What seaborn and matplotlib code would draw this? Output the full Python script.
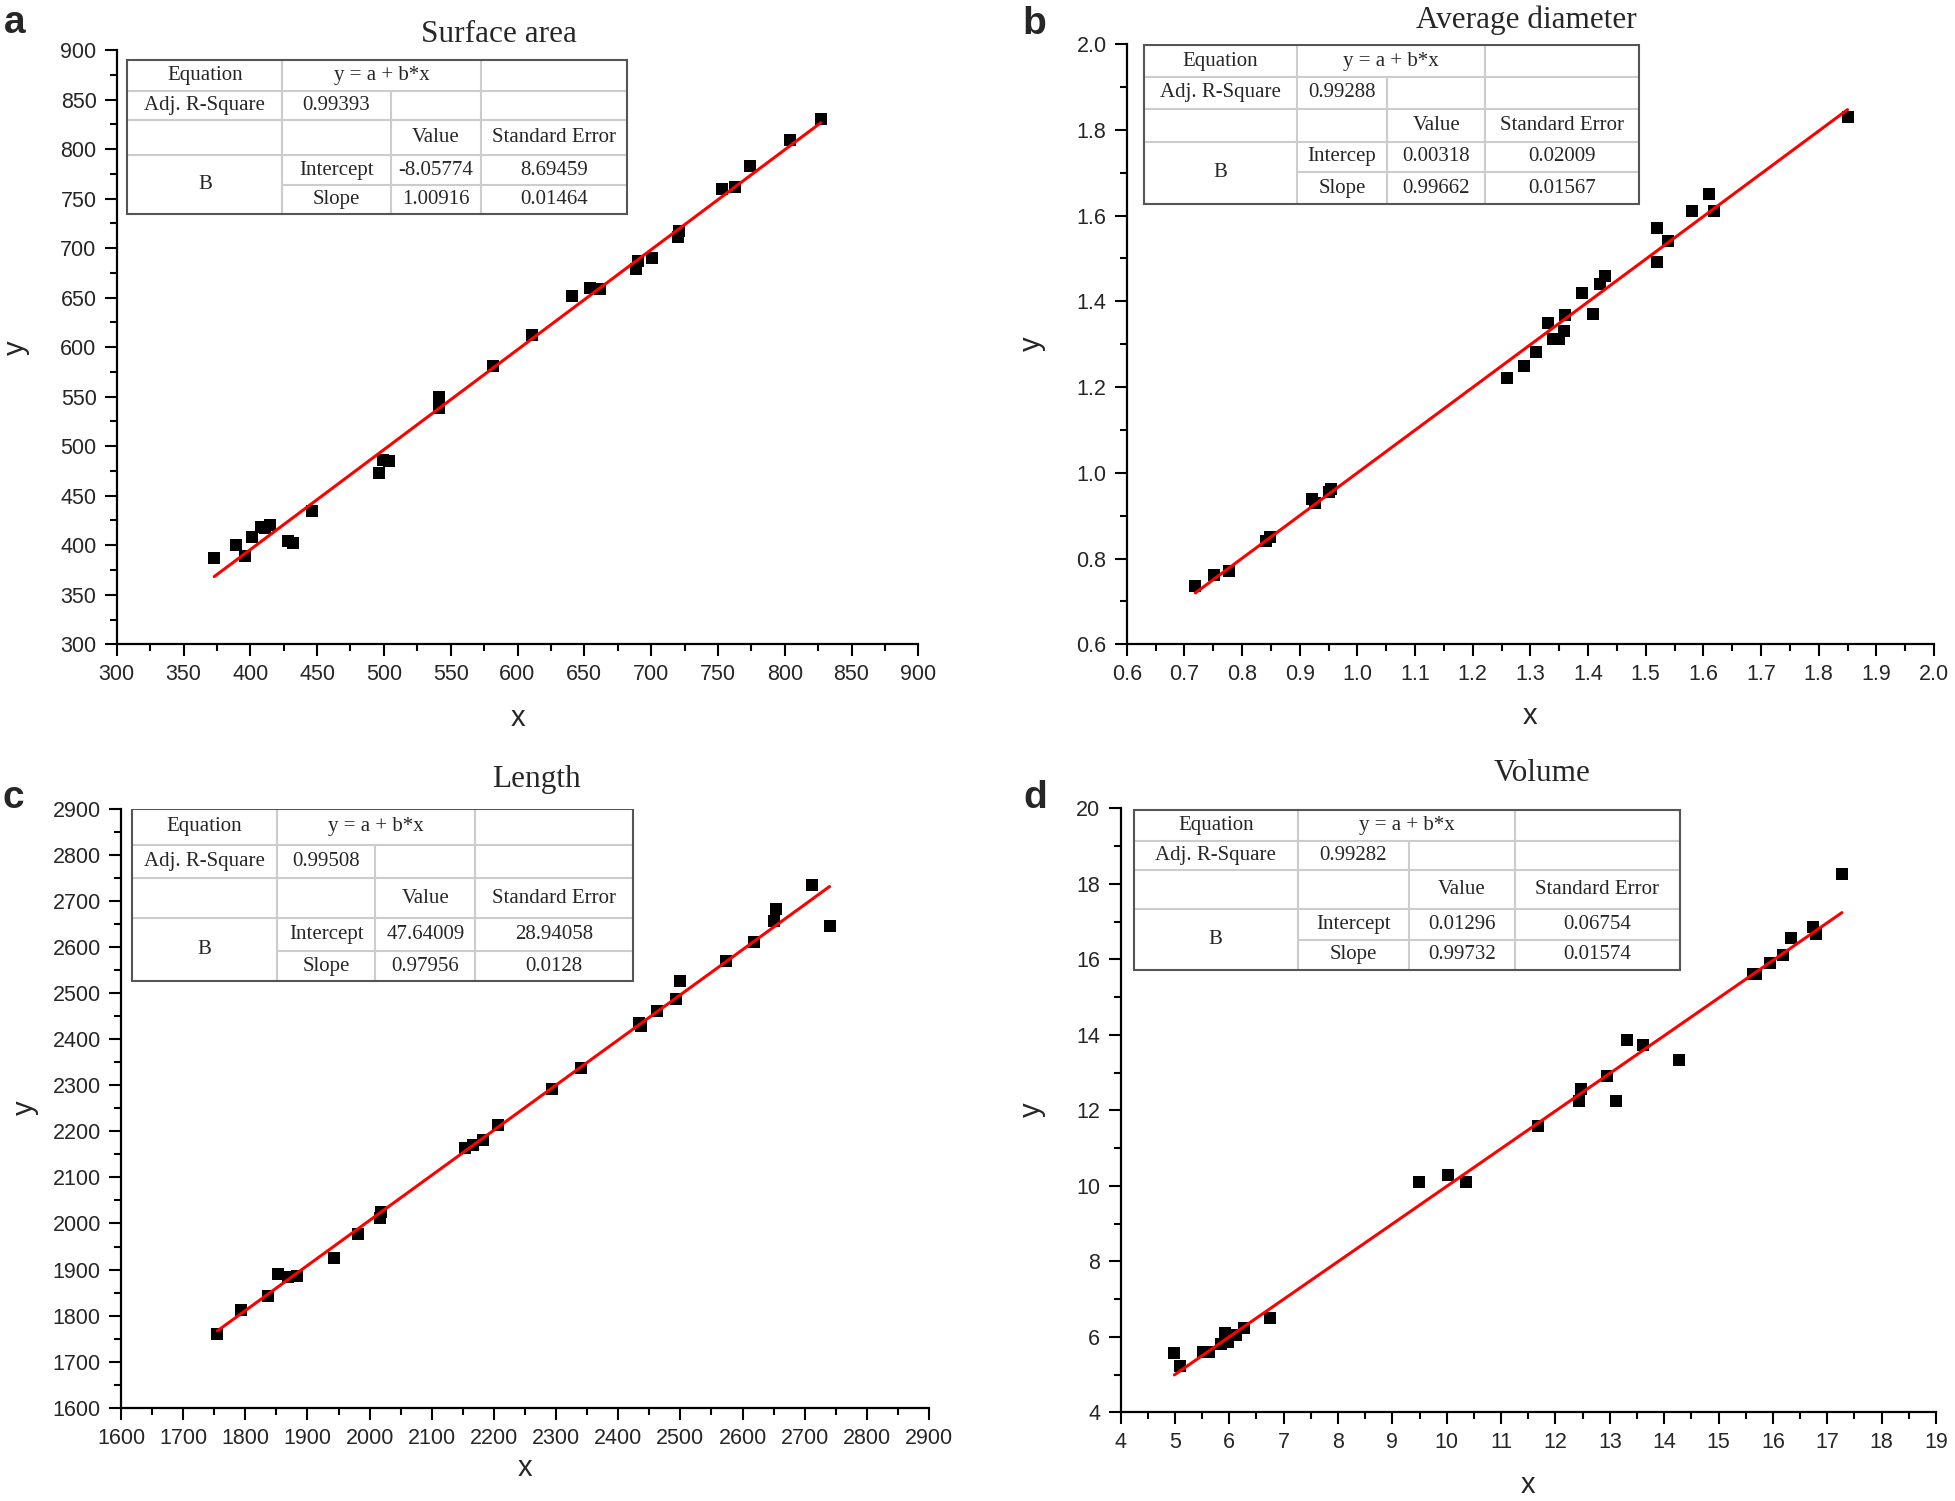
import matplotlib
matplotlib.use("Agg")
import matplotlib.pyplot as plt
from matplotlib.ticker import MultipleLocator, FormatStrFormatter
import seaborn as sns

sa_x = [373, 389, 396, 401, 408, 411, 415, 428, 432, 446, 496, 499, 504, 541, 541,
        582, 611, 641, 654, 662, 689, 690, 701, 720, 721, 753, 763, 774, 804, 827]
sa_y = [387, 400, 389, 408, 418, 417, 420, 404, 402, 435, 473, 486, 485, 550, 539,
        581, 612, 652, 660, 659, 679, 687, 690, 711, 717, 760, 762, 783, 809, 830]

dia_x = [0.719, 0.752, 0.777, 0.842, 0.849, 0.921, 0.926, 0.951, 0.954, 1.259, 1.289,
         1.310, 1.331, 1.340, 1.350, 1.358, 1.360, 1.389, 1.409, 1.420, 1.430, 1.520,
         1.520, 1.539, 1.581, 1.610, 1.618, 1.850]
dia_y = [0.736, 0.762, 0.770, 0.840, 0.850, 0.939, 0.930, 0.955, 0.962, 1.220, 1.250,
         1.281, 1.350, 1.311, 1.311, 1.331, 1.369, 1.420, 1.370, 1.440, 1.459, 1.570,
         1.492, 1.540, 1.610, 1.650, 1.610, 1.829]

len_x = [1755, 1793, 1836, 1853, 1869, 1883, 1943, 1982, 2017, 2019, 2153, 2166, 2183,
         2206, 2294, 2340, 2433, 2436, 2463, 2493, 2500, 2573, 2618, 2650, 2654, 2712, 2740]
len_y = [1760, 1812, 1843, 1891, 1883, 1885, 1925, 1978, 2011, 2024, 2163, 2171, 2181,
         2214, 2292, 2338, 2435, 2429, 2461, 2488, 2527, 2570, 2611, 2656, 2683, 2735, 2646]

vol_x = [4.99, 5.09, 5.52, 5.63, 5.84, 5.92, 5.98, 6.13, 6.28, 6.75, 9.49, 10.02, 10.35,
         11.68, 12.43, 12.47, 12.95, 13.11, 13.31, 13.61, 14.27, 15.64, 15.69, 15.95,
         16.19, 16.34, 16.73, 16.80, 17.27]
vol_y = [5.58, 5.23, 5.59, 5.59, 5.81, 6.11, 5.87, 6.04, 6.24, 6.49, 10.11, 10.29, 10.11,
         11.58, 12.24, 12.57, 12.90, 12.25, 13.85, 13.73, 13.34, 15.62, 15.61, 15.90,
         16.11, 16.57, 16.85, 16.67, 18.25]

titles = ["Surface area", "Average diameter", "Length", "Volume"]
letters = ["a", "b", "c", "d"]
adj_r2 = ["0.99393", "0.99288", "0.99508", "0.99282"]
intercept_names = ["Intercept", "Intercep", "Intercept", "Intercept"]
intercepts = [-8.05774, 0.00318, 47.64009, 0.01296]
intercept_se = ["8.69459", "0.02009", "28.94058", "0.06754"]
slopes = [1.00916, 0.99662, 0.97956, 0.99732]
slope_se = ["0.01464", "0.01567", "0.0128", "0.01574"]

xs = [sa_x, dia_x, len_x, vol_x]
ys = [sa_y, dia_y, len_y, vol_y]

# ---- layout (pixels in the 1955x1501 canvas) ----
W, H = 1955, 1501
axes_px = [(116.7, 50, 918.3, 644.3), (1126.7, 44, 1934, 644.3),
           (121, 809, 929, 1407.7), (1120.5, 808.3, 1936, 1412.3)]
limits = [((300, 900), (300, 900)), ((0.6, 2.0), (0.6, 2.0)),
          ((1600, 2900), (1600, 2900)), ((4, 19), (4, 20))]
steps = [((50, 25), (50, 25)), ((0.1, 0.05), (0.2, 0.1)),
         ((100, 50), (100, 50)), ((1, 0.5), (2, 1))]
letter_pos = [(4, 33), (1022, 34), (3, 808), (1023, 808)]
title_pos = [(499, 42), (1526, 28), (536, 787), (1542, 781)]
ylabel_pos = [(16, 348), (1032, 344), (25, 1108), (1032, 1110)]
xlabel_pos = [(518, 718), (1530, 716), (525, 1468), (1528, 1485)]
# table box in axes fraction: x0, x1, top, bottom ; column and row proportions
tables = [
    ((0.0133, 0.637, 0.984, 0.7245), [0.31, 0.217, 0.18, 0.293], [65, 61, 75, 61, 61]),
    ((0.021, 0.634, 0.998, 0.733), [0.309, 0.183, 0.198, 0.309], [68, 67, 70, 65, 68]),
    ((0.013, 0.634, 1.0, 0.712), [0.29, 0.196, 0.199, 0.315], [75, 70, 82, 70, 63]),
    ((0.016, 0.686, 0.998, 0.733), [0.301, 0.203, 0.194, 0.302], [66, 62, 80, 65, 63]),
]

sns.set_theme(style="ticks")
plt.rcParams["font.family"] = ["Liberation Sans", "DejaVu Sans"]
SERIF = ["Liberation Serif", "DejaVu Serif"]


def fx(px):
    return px / W


def fy(py):
    return 1 - py / H


def draw_table(ax, box, col_w, row_h, cells):
    x0, x1, top, bot = box
    cw = [c / sum(col_w) * (x1 - x0) for c in col_w]
    rh = [r / sum(row_h) * (top - bot) for r in row_h]
    cx = [x0]
    for c in cw:
        cx.append(cx[-1] + c)
    ry = [top]
    for r in rh:
        ry.append(ry[-1] - r)
    tr = ax.transAxes
    ax.add_patch(plt.Rectangle((x0, bot), x1 - x0, top - bot, transform=tr,
                               facecolor="white", edgecolor="none", zorder=5))
    inner = dict(color="#cccccc", lw=1.5, transform=tr, zorder=6, solid_capstyle="butt")
    # horizontal inner lines
    for i in (1, 2, 3):
        ax.plot([x0, x1], [ry[i], ry[i]], **inner)
    ax.plot([cx[1], x1], [ry[4], ry[4]], **inner)
    # vertical inner lines
    ax.plot([cx[1], cx[1]], [top, bot], **inner)
    ax.plot([cx[3], cx[3]], [top, bot], **inner)
    ax.plot([cx[2], cx[2]], [ry[1], bot], **inner)
    ax.add_patch(plt.Rectangle((x0, bot), x1 - x0, top - bot, transform=tr,
                               facecolor="none", edgecolor="#555555", lw=1.5, zorder=7))

    def put(x, y, s):
        ax.text(x, y, s, transform=tr, ha="center", va="center", fontsize=15,
                family=SERIF, zorder=8)

    mid = lambda a, b: (a + b) / 2
    put(mid(cx[0], cx[1]), mid(ry[0], ry[1]), "Equation")
    put(mid(cx[1], cx[3]), mid(ry[0], ry[1]), "y = a + b*x")
    put(mid(cx[0], cx[1]), mid(ry[1], ry[2]), "Adj. R-Square")
    put(mid(cx[1], cx[2]), mid(ry[1], ry[2]), cells["r2"])
    put(mid(cx[2], cx[3]), mid(ry[2], ry[3]), "Value")
    put(mid(cx[3], cx[4]), mid(ry[2], ry[3]), "Standard Error")
    put(mid(cx[0], cx[1]), mid(ry[3], ry[5]), "B")
    put(mid(cx[1], cx[2]), mid(ry[3], ry[4]), cells["iname"])
    put(mid(cx[2], cx[3]), mid(ry[3], ry[4]), cells["ival"])
    put(mid(cx[3], cx[4]), mid(ry[3], ry[4]), cells["ise"])
    put(mid(cx[1], cx[2]), mid(ry[4], ry[5]), "Slope")
    put(mid(cx[2], cx[3]), mid(ry[4], ry[5]), cells["sval"])
    put(mid(cx[3], cx[4]), mid(ry[4], ry[5]), cells["sse"])


fig = plt.figure(figsize=(W / 100, H / 100), dpi=100)

for i in range(4):
    l, t, r, b = axes_px[i]
    ax = fig.add_axes([fx(l), fy(b), (r - l) / W, (b - t) / H])
    x, y = xs[i], ys[i]
    sns.scatterplot(x=x, y=y, marker="s", s=64, color="black", edgecolor="black",
                    linewidth=0, ax=ax, zorder=3)
    x_line = [min(x), max(x)]
    y_line = [intercepts[i] + slopes[i] * v for v in x_line]
    sns.lineplot(x=x_line, y=y_line, color="red", lw=2.2, ax=ax, zorder=4)

    (xl, yl), ((xM, xm), (yM, ym)) = limits[i], steps[i]
    ax.set_xlim(xl)
    ax.set_ylim(yl)
    ax.xaxis.set_major_locator(MultipleLocator(xM))
    ax.xaxis.set_minor_locator(MultipleLocator(xm))
    ax.yaxis.set_major_locator(MultipleLocator(yM))
    ax.yaxis.set_minor_locator(MultipleLocator(ym))
    if i == 1:
        ax.xaxis.set_major_formatter(FormatStrFormatter("%.1f"))
        ax.yaxis.set_major_formatter(FormatStrFormatter("%.1f"))
    for side in ("top", "right"):
        ax.spines[side].set_visible(False)
    for side in ("left", "bottom"):
        ax.spines[side].set_linewidth(1.6)
        ax.spines[side].set_color("black")
    ax.tick_params(which="major", direction="out", length=8.5, width=1.5,
                   labelsize=15.5, pad=6, color="black")
    ax.tick_params(which="minor", direction="out", length=5, width=1.5, color="black")
    ax.set_xlabel("")
    ax.set_ylabel("")

    box, cw, rh = tables[i]
    draw_table(ax, box, cw, rh, {
        "r2": adj_r2[i], "iname": intercept_names[i],
        "ival": f"{intercepts[i]:.5f}", "ise": intercept_se[i],
        "sval": f"{slopes[i]:.5f}", "sse": slope_se[i],
    })

    fig.text(fx(letter_pos[i][0]), fy(letter_pos[i][1]), letters[i], fontsize=28,
             fontweight="bold", ha="left", va="baseline")
    fig.text(fx(title_pos[i][0]), fy(title_pos[i][1]), titles[i], fontsize=22.5,
             family=SERIF, ha="center", va="baseline")
    fig.text(fx(ylabel_pos[i][0]), fy(ylabel_pos[i][1]), "y", fontsize=21,
             rotation=90, ha="center", va="center")
    fig.text(fx(xlabel_pos[i][0]), fy(xlabel_pos[i][1]), "x", fontsize=21,
             ha="center", va="center")

fig.savefig("out.png", dpi=100, facecolor="white")
